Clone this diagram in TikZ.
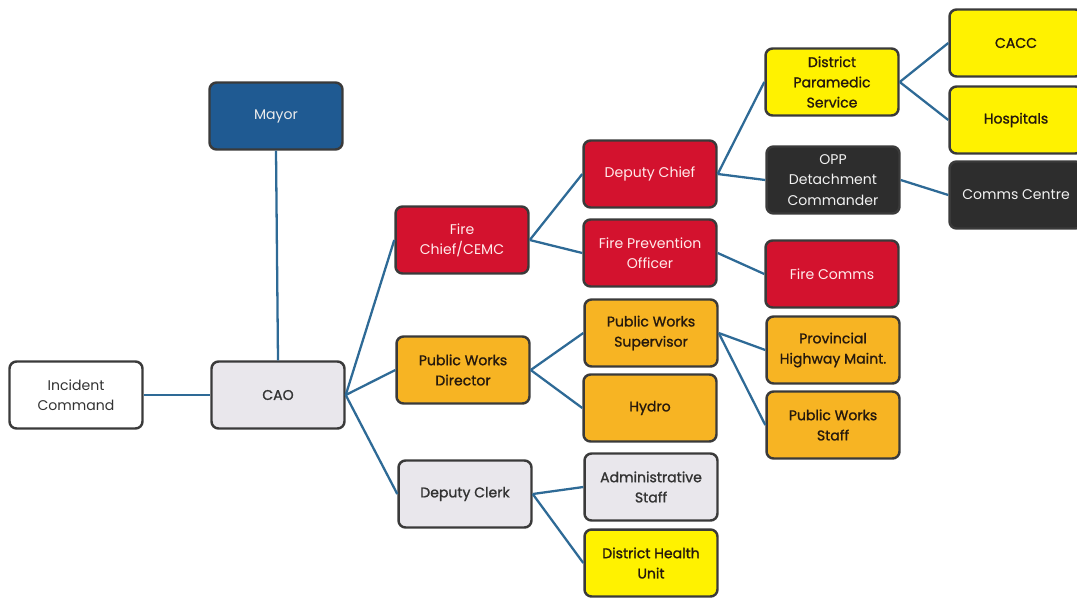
\documentclass[tikz,border=0pt]{standalone}
\usepackage{fontspec}
\setmainfont{Poppins}
\newfontfamily\heavytext[FakeBold=1.2]{Poppins}
\usepackage{xcolor}
\usetikzlibrary{positioning}

\definecolor{mayorblue}{HTML}{1F5A92}
\definecolor{firered}{HTML}{D3122E}
\definecolor{worksgold}{HTML}{F7B423}
\definecolor{healthyellow}{HTML}{FFF200}
\definecolor{clerkgray}{HTML}{E9E7EC}
\definecolor{policeblack}{HTML}{2D2D2D}
\definecolor{linkblue}{HTML}{2E6A96}
\definecolor{edgegray}{HTML}{3A3A3A}

\tikzset{
    unit/.style={draw=edgegray, line width=1.4pt, rounded corners=4pt,
        minimum width=2.66cm, minimum height=1.34cm, align=center,
        inner sep=2pt, font=\fontsize{8}{11.5}\selectfont},
    blueunit/.style={unit, fill=mayorblue, text=white!85!gray},
    redunit/.style={unit, fill=firered, text=white!92!red},
    goldunit/.style={unit, fill=worksgold, text=black!80!brown,
        font=\heavytext\fontsize{8}{11.5}\selectfont},
    yellowunit/.style={unit, fill=healthyellow, text=black!80!brown,
        font=\heavytext\fontsize{8}{11.5}\selectfont},
    grayunit/.style={unit, fill=clerkgray, text=black!80,
        font=\heavytext\fontsize{8}{11.5}\selectfont},
    whiteunit/.style={unit, fill=white, text=black!80},
    blackunit/.style={unit, fill=policeblack, text=white!90!gray},
    link/.style={draw=linkblue, line width=1.3pt}
}

\begin{document}
\begin{tikzpicture}[x=0.02cm, y=-0.02cm]
    \useasboundingbox (0,0) rectangle (1077,599);

    % first level
    \node[blueunit]  (mayor)    at (276,116) {Mayor};
    \node[whiteunit] (incident) at (76,395)  {Incident\\Command};
    \node[grayunit]  (cao)      at (278,395) {CAO};

    % department heads
    \node[redunit]  (firechief) at (462,240) {Fire\\Chief/CEMC};
    \node[goldunit] (pwdir)     at (463,370) {Public Works\\Director};
    \node[grayunit] (clerk)     at (465,494) {Deputy Clerk};

    % second level
    \node[redunit]    (depchief) at (650,174) {Deputy Chief};
    \node[redunit]    (fpo)      at (650,253) {Fire Prevention\\Officer};
    \node[goldunit]   (pwsup)    at (651,333) {Public Works\\Supervisor};
    \node[goldunit]   (hydro)    at (650,408) {Hydro};
    \node[grayunit]   (admin)    at (651,487) {Administrative\\Staff};
    \node[yellowunit] (health)   at (651,563) {District Health\\Unit};

    % third level
    \node[yellowunit] (paramedic) at (832,82)  {District\\Paramedic\\Service};
    \node[blackunit]  (opp)       at (833,180) {OPP\\Detachment\\Commander};
    \node[redunit]    (firecomms) at (832,274) {Fire Comms};
    \node[goldunit]   (highway)   at (833,350) {Provincial\\Highway Maint.};
    \node[goldunit]   (pwstaff)   at (833,425) {Public Works\\Staff};

    % fourth level
    \node[yellowunit] (cacc)      at (1016,43)  {CACC};
    \node[yellowunit] (hospitals) at (1016,120) {Hospitals};
    \node[blackunit]  (commscent) at (1016,195) {Comms Centre};

    % connectors
    \draw[link] (mayor.south) -- (cao.north);
    \draw[link] (incident.east) -- (cao.west);
    \foreach \child in {firechief, pwdir, clerk}
        \draw[link] (cao.east) -- (\child.west);
    \foreach \child in {depchief, fpo}
        \draw[link] (firechief.east) -- (\child.west);
    \foreach \child in {pwsup, hydro}
        \draw[link] (pwdir.east) -- (\child.west);
    \foreach \child in {admin, health}
        \draw[link] (clerk.east) -- (\child.west);
    \foreach \child in {paramedic, opp}
        \draw[link] (depchief.east) -- (\child.west);
    \draw[link] (fpo.east) -- (firecomms.west);
    \foreach \child in {highway, pwstaff}
        \draw[link] (pwsup.east) -- (\child.west);
    \foreach \child in {cacc, hospitals}
        \draw[link] (paramedic.east) -- (\child.west);
    \draw[link] (opp.east) -- (commscent.west);

\end{tikzpicture}
\end{document}
